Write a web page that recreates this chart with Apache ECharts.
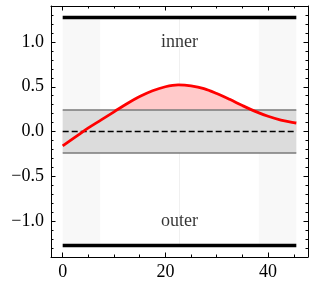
<!DOCTYPE html>
<html><head><meta charset="utf-8">
<script src="https://cdn.jsdelivr.net/npm/echarts@6/dist/echarts.min.js"></script>
<style>html,body{margin:0;padding:0;background:#fff}#c{width:315px;height:287px}</style>
</head><body><div id="c"></div>
<script>
// ---- data ----
const xs    = [0, 2.5, 5, 7.5, 10, 12.5, 15, 17.5, 20, 22.5, 25, 27.5, 30, 32.5, 35, 37.5, 40, 42.5, 45, 45.5];
const curve = [-0.16, -0.06, 0.04, 0.13, 0.22, 0.31, 0.39, 0.455, 0.50, 0.52, 0.51, 0.48, 0.425, 0.36, 0.29, 0.225, 0.17, 0.128, 0.10, 0.095];
const xStart = 0, xEnd = 45.5, xCenter = 22.75;
const bandHalf = 0.24;
const railY = 1.275;
const shadeLeft = [0, 7.3];
const shadeRight = [38.2, 45.5];
const textLabels = [{name: 'inner', x: 22.75, y: 1.0}, {name: 'outer', x: 22.75, y: -1.0}];
const xMajor = [0, 20, 40];
const xMinor = [5, 10, 15, 25, 30, 35, 45];
const yMajor = [-1.0, -0.5, 0.0, 0.5, 1.0];
const yMinor = [-1.4, -1.3, -1.2, -1.1, -0.9, -0.8, -0.7, -0.6, -0.4, -0.3, -0.2, -0.1, 0.1, 0.2, 0.3, 0.4, 0.6, 0.7, 0.8, 0.9, 1.1, 1.2, 1.3, 1.4];
const xRange = [-2.275, 47.775];
const yRange = [-1.4025, 1.4025];

const FONT = '"Liberation Serif", "DejaVu Serif", serif';
const minus = s => String(s).replace('-', '\u2212');

function xAx(pos, vals, len, showLine, showLabel) {
  return {
    type: 'value', position: pos, min: xRange[0], max: xRange[1],
    splitLine: {show: false},
    axisLine: {show: showLine, onZero: false, lineStyle: {color: '#000', width: 1}},
    axisTick: {show: true, inside: true, length: len, customValues: vals, lineStyle: {color: '#000', width: 1}},
    axisLabel: showLabel ? {show: true, customValues: vals, color: '#000', fontSize: 18, fontFamily: FONT, margin: 6,
      formatter: v => minus(Math.round(v))} : {show: false}
  };
}
function yAx(pos, vals, len, showLine, showLabel) {
  return {
    type: 'value', position: pos, min: yRange[0], max: yRange[1],
    splitLine: {show: false},
    axisLine: {show: showLine, onZero: false, lineStyle: {color: '#000', width: 1}},
    axisTick: {show: true, inside: true, length: len, customValues: vals, lineStyle: {color: '#000', width: 1}},
    axisLabel: showLabel ? {show: true, customValues: vals, color: '#000', fontSize: 18, fontFamily: FONT, margin: 7,
      formatter: v => minus(v.toFixed(1))} : {show: false}
  };
}

function rectSeries(rects, color, z) {
  return {
    type: 'custom', z: z, silent: true, animation: false,
    data: rects,
    renderItem: (params, api) => {
      const p0 = api.coord([api.value(0), api.value(3)]);
      const p1 = api.coord([api.value(1), api.value(2)]);
      return {type: 'rect', shape: {x: p0[0], y: p0[1], width: p1[0] - p0[0], height: p1[1] - p0[1]},
        style: {fill: color}};
    }
  };
}
function hLine(y, color, width, type, z) {
  return {type: 'line', z: z, silent: true, symbol: 'none', animation: false,
    data: [[xStart, y], [xEnd, y]], lineStyle: {color: color, width: width, type: type}};
}

const curveData = xs.map((x, i) => [x, curve[i]]);
const SMOOTH = 0.35;

const option = {
  animation: false,
  grid: {left: 51, right: 7, top: 6, bottom: 30, containLabel: false},
  xAxis: [
    xAx('bottom', xMajor, 4.5, true, true),
    xAx('bottom', xMinor, 2.5, false, false),
    xAx('top', xMajor, 4.5, true, false),
    xAx('top', xMinor, 2.5, false, false)
  ],
  yAxis: [
    yAx('left', yMajor, 4.5, true, true),
    yAx('left', yMinor, 2.5, false, false),
    yAx('right', yMajor, 4.5, true, false),
    yAx('right', yMinor, 2.5, false, false)
  ],
  series: [
    rectSeries([[shadeLeft[0], shadeLeft[1], -railY, railY], [shadeRight[0], shadeRight[1], -railY, railY]], '#f8f8f8', 1),
    {type: 'line', z: 1, silent: true, symbol: 'none', data: [[xCenter, -railY], [xCenter, railY]],
      lineStyle: {color: '#f0f0f0', width: 1}},
    {type: 'line', z: 2, silent: true, symbol: 'none', smooth: SMOOTH, data: curveData,
      lineStyle: {width: 0, opacity: 0}, areaStyle: {color: '#ffcaca', opacity: 1}},
    rectSeries([[xStart, xEnd, -bandHalf, bandHalf]], '#dcdcdc', 3),
    hLine(bandHalf, '#7a7a7a', 1.5, 'solid', 4),
    hLine(-bandHalf, '#7a7a7a', 1.5, 'solid', 4),
    hLine(0, '#000', 1.5, [6, 3], 5),
    {type: 'line', z: 6, silent: true, symbol: 'none', smooth: SMOOTH, data: curveData,
      lineStyle: {color: '#ff0000', width: 2.8}},
    hLine(railY, '#000', 3.5, 'solid', 7),
    hLine(-railY, '#000', 3.5, 'solid', 7),
    {type: 'scatter', z: 8, silent: true, symbolSize: 0,
      data: textLabels.map(t => ({name: t.name, value: [t.x, t.y]})),
      label: {show: true, position: 'inside', formatter: '{b}', color: '#000', fontSize: 18, fontFamily: FONT}}
  ]
};
const chart = echarts.init(document.getElementById('c'), null, {renderer: 'canvas'});
chart.setOption(option);
</script></body></html>
